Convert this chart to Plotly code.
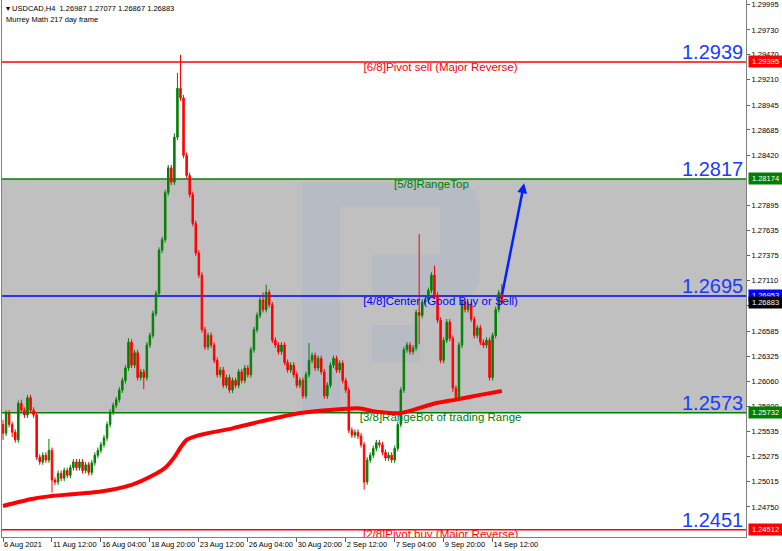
import plotly.graph_objects as go

# ---------------- data ----------------
closes = [
    1.2552, 1.2573, 1.2561, 1.2553, 1.2545, 1.2583, 1.2576, 1.2571, 1.2589, 1.2576,
    1.2571, 1.2527, 1.2522, 1.2529, 1.2524, 1.2534, 1.2503, 1.2501, 1.2510, 1.2505,
    1.2513, 1.2508, 1.2516, 1.2522, 1.2516, 1.2522, 1.2513, 1.2519, 1.2511, 1.2521,
    1.2529, 1.2534, 1.2540, 1.2547, 1.2561, 1.2574, 1.2581, 1.2587, 1.2597, 1.2607,
    1.2620, 1.2647, 1.2623, 1.2636, 1.2610, 1.2616, 1.2610, 1.2644, 1.2654, 1.2677,
    1.2698, 1.2743, 1.2754, 1.2803, 1.2829, 1.2814, 1.2861, 1.2912, 1.2902, 1.2842,
    1.2821, 1.2801, 1.2771, 1.2740, 1.2717, 1.2660, 1.2642, 1.2654, 1.2644, 1.2628,
    1.2613, 1.2618, 1.2602, 1.2610, 1.2597, 1.2607, 1.2602, 1.2616, 1.2607, 1.2620,
    1.2613, 1.2639, 1.2660, 1.2675, 1.2691, 1.2681, 1.2699, 1.2686, 1.2649, 1.2644,
    1.2637, 1.2644, 1.2626, 1.2618, 1.2623, 1.2613, 1.2602, 1.2607, 1.2591, 1.2613,
    1.2628, 1.2633, 1.2620, 1.2630, 1.2616, 1.2591, 1.2602, 1.2623, 1.2630, 1.2618,
    1.2625, 1.2607, 1.2597, 1.2555, 1.2550, 1.2553, 1.2549, 1.2540, 1.2501, 1.2524,
    1.2529, 1.2536, 1.2542, 1.2540, 1.2532, 1.2526, 1.2529, 1.2524, 1.2536, 1.2561,
    1.2597, 1.2639, 1.2644, 1.2637, 1.2641, 1.2678, 1.2675, 1.2689, 1.2691, 1.2701,
    1.2717, 1.2696, 1.2670, 1.2628, 1.2649, 1.2668, 1.2651, 1.2599, 1.2589, 1.2644,
    1.2689, 1.2681, 1.2686, 1.2671, 1.2654, 1.2662, 1.2647, 1.2644, 1.2649, 1.2610,
    1.2654, 1.2681, 1.26987, 1.26883,
]
first_open = 1.2561

# upper / lower wick lengths in pips beyond the body
wick_up = [
    5, 3, 3, 3, 3, 3, 4, 3, 3, 3,
    3, 3, 3, 3, 3, 12, 3, 3, 3, 3,
    3, 3, 3, 3, 3, 3, 3, 3, 3, 3,
    3, 3, 3, 3, 3, 3, 3, 3, 3, 3,
    3, 4, 3, 3, 3, 3, 3, 3, 3, 3,
    3, 3, 3, 3, 3, 3, 4, 16, 35, 3,
    3, 3, 3, 3, 3, 3, 3, 3, 3, 3,
    3, 3, 3, 3, 3, 3, 3, 3, 3, 3,
    3, 3, 3, 3, 3, 8, 8, 3, 3, 3,
    3, 3, 3, 3, 3, 3, 3, 3, 3, 3,
    18, 3, 3, 3, 3, 3, 3, 3, 3, 3,
    3, 3, 3, 3, 3, 3, 3, 3, 3, 3,
    3, 3, 3, 3, 3, 3, 3, 3, 3, 3,
    3, 3, 3, 3, 3, 3, 82, 3, 3, 3,
    3, 10, 3, 3, 3, 3, 3, 3, 3, 3,
    3, 3, 3, 3, 3, 3, 3, 3, 3, 3,
    3, 3, 3, 9,
]
wick_down = [
    7, 3, 3, 5, 3, 3, 3, 3, 3, 3,
    3, 3, 3, 3, 3, 3, 13, 3, 3, 3,
    3, 3, 3, 3, 3, 3, 3, 3, 3, 3,
    3, 3, 3, 3, 3, 3, 3, 3, 3, 3,
    3, 3, 3, 3, 3, 3, 12, 3, 3, 3,
    3, 3, 3, 3, 3, 3, 3, 3, 3, 3,
    3, 3, 3, 3, 3, 3, 3, 3, 3, 3,
    3, 3, 3, 3, 3, 3, 3, 3, 3, 3,
    3, 3, 3, 3, 3, 3, 3, 3, 3, 3,
    3, 3, 3, 3, 3, 3, 3, 3, 3, 3,
    3, 3, 3, 3, 3, 3, 3, 3, 3, 3,
    3, 3, 3, 3, 3, 3, 3, 3, 8, 3,
    3, 3, 3, 3, 3, 3, 3, 3, 3, 3,
    3, 3, 3, 3, 3, 3, 30, 3, 3, 3,
    3, 3, 3, 3, 3, 3, 3, 4, 3, 3,
    3, 3, 3, 3, 3, 3, 3, 3, 3, 3,
    3, 3, 3, 2,
]

ma_bars = [0, 9, 15, 32, 42, 49, 53, 56, 58, 60, 63, 67, 75, 84, 97, 110, 116, 123, 130, 141, 148, 156, 163]
ma_values = [1.2476, 1.2483, 1.2486, 1.2491, 1.2498, 1.2508, 1.2516, 1.2527, 1.2537, 1.2545, 1.2549,
             1.2552, 1.2557, 1.2564, 1.2573, 1.2577, 1.2578, 1.2574, 1.2573, 1.2583, 1.2587, 1.2592, 1.2596]

level_values = [1.29395, 1.28174, 1.26953, 1.25732, 1.24512]
level_names = ["[6/8]Pivot sell (Major Reverse)", "[5/8]RangeTop", "[4/8]Center (Good Buy or Sell)",
               "[3/8]RangeBot of trading Range", "[2/8]Pivot buy (Major Reverse)"]
level_colors = ["#ff0000", "#008000", "#0000ff", "#008000", "#ff0000"]
level_label_bar = [143, 140, 143, 143, 143]
big_labels = ["1.2939", "1.2817", "1.2695", "1.2573", "1.2451"]

last_close = 1.26883
arrow_start = (163, 1.26953)
arrow_end = (170.3, 1.2813)

x_tick_bars = [0, 16, 32, 48, 64, 80, 96, 112, 128, 144, 160]
x_tick_text = ["6 Aug 2021", "11 Aug 12:00", "16 Aug 04:00", "18 Aug 20:00", "23 Aug 12:00",
               "26 Aug 04:00", "30 Aug 20:00", "2 Sep 12:00", "7 Sep 04:00", "9 Sep 20:00", "14 Sep 12:00"]
y_ticks = [1.29995, 1.29730, 1.29470, 1.29210, 1.28945, 1.28685, 1.28420, 1.27895,
           1.27635, 1.27375, 1.27110, 1.26850, 1.26585, 1.26325, 1.26060, 1.25800, 1.25535,
           1.25275, 1.25015, 1.24750]

# ---------------- build ----------------
n = len(closes)
bars = list(range(n))
opens = [first_open] + closes[:-1]
pip = 0.0001
highs = [max(o, c) + u * pip for o, c, u in zip(opens, closes, wick_up[:n])]
lows = [min(o, c) - d * pip for o, c, d in zip(opens, closes, wick_down[:n])]

FONT = "Liberation Sans, Arial, sans-serif"
fig = go.Figure()

fig.add_trace(go.Candlestick(
    x=bars, open=opens, high=highs, low=lows, close=closes,
    increasing=dict(line=dict(color="#008000", width=1), fillcolor="#008000"),
    decreasing=dict(line=dict(color="#ff0000", width=1), fillcolor="#ff0000"),
    whiskerwidth=0, showlegend=False, hoverinfo="skip"))

fig.add_trace(go.Scatter(x=ma_bars, y=ma_values, mode="lines",
                         line=dict(color="#ff0000", width=4, shape="spline", smoothing=0.6),
                         showlegend=False, hoverinfo="skip"))

for name, val, col, xb in zip(level_names, level_values, level_colors, level_label_bar):
    fig.add_trace(go.Scatter(x=[xb], y=[val], mode="text", text=[name],
                             textposition="bottom center",
                             textfont=dict(family=FONT, size=11.5, color=col),
                             cliponaxis=True, showlegend=False, hoverinfo="skip"))

shapes = []
shapes.append(dict(type="rect", xref="paper", yref="y", x0=0, x1=1,
                   y0=level_values[3], y1=level_values[1],
                   fillcolor="#c0c0c0", line=dict(width=0), layer="below"))


def px(X):
    return (X - 2) / 744.0


def py(Y):
    return 1 - Y / 537.0


wm = "rgba(160,176,205,0.28)"
shapes.append(dict(type="rect", xref="paper", yref="paper", x0=px(302), x1=px(340),
                   y0=py(410), y1=py(183), fillcolor=wm, line=dict(width=0), layer="below"))
bowl = (f"M {px(340)},{py(183)} L {px(452)},{py(183)} Q {px(480)},{py(183)} {px(480)},{py(211)} "
        f"L {px(480)},{py(272)} Q {px(480)},{py(300)} {px(452)},{py(300)} L {px(372)},{py(300)} "
        f"L {px(372)},{py(255)} L {px(440)},{py(255)} L {px(440)},{py(207)} L {px(340)},{py(207)} Z")
shapes.append(dict(type="path", xref="paper", yref="paper", path=bowl,
                   fillcolor=wm, line=dict(width=0), layer="below"))
shapes.append(dict(type="rect", xref="paper", yref="paper", x0=px(372), x1=px(420),
                   y0=py(362), y1=py(325), fillcolor=wm, line=dict(width=0), layer="below"))

for val, col in zip(level_values, level_colors):
    shapes.append(dict(type="line", xref="paper", yref="y", x0=0, x1=1, y0=val, y1=val,
                       line=dict(color=col, width=1.5), layer="below"))

annotations = []
for val, lab in zip(level_values, big_labels):
    annotations.append(dict(x=0.998, xref="paper", y=val, yref="y", text=lab, showarrow=False,
                            xanchor="right", yanchor="bottom", yshift=-3,
                            font=dict(family=FONT, size=20, color="#1a3cff")))

annotations.append(dict(x=arrow_end[0], y=arrow_end[1], ax=arrow_start[0], ay=arrow_start[1],
                        xref="x", yref="y", axref="x", ayref="y", text="", showarrow=True,
                        arrowhead=2, arrowsize=0.8, arrowwidth=2.5, arrowcolor="#0022ff"))

tag_vals = [level_values[0], level_values[1], level_values[2], last_close, level_values[3], level_values[4]]
tag_cols = ["#ff0000", "#008000", "#0000ff", "#000000", "#008000", "#ff0000"]
for v, c in zip(tag_vals, tag_cols):
    annotations.append(dict(x=1, xref="paper", y=v, yref="y", text=f"{v:.5f}", showarrow=False,
                            xanchor="left", yanchor="middle", xshift=2,
                            font=dict(family=FONT, size=7.5, color="white"),
                            bgcolor=c, borderpad=1, width=31))

annotations.append(dict(x=0, xref="paper", y=1, yref="paper", xanchor="left", yanchor="top",
                        xshift=2, yshift=-2, showarrow=False,
                        text="▾ USDCAD,H4  1.26987 1.27077 1.26867 1.26883",
                        font=dict(family=FONT, size=7.5, color="black")))
annotations.append(dict(x=0, xref="paper", y=1, yref="paper", xanchor="left", yanchor="top",
                        xshift=2, yshift=-13, showarrow=False,
                        text="Murrey Math 217 day frame",
                        font=dict(family=FONT, size=7.5, color="black")))

fig.update_layout(
    width=782, height=551,
    margin=dict(l=2, r=36, t=0, b=14, autoexpand=False),
    paper_bgcolor="white", plot_bgcolor="white",
    shapes=shapes, annotations=annotations,
    showlegend=False,
    xaxis=dict(range=[-0.33, 242.8], rangeslider=dict(visible=False), showgrid=False, zeroline=False,
               automargin=False, tickangle=0,
               tickmode="array", tickvals=x_tick_bars, ticktext=x_tick_text,
               ticks="outside", ticklen=4, tickcolor="#606060",
               ticklabelposition="outside right",
               tickfont=dict(family=FONT, size=7.5, color="black"),
               showline=True, linecolor="#808080", linewidth=1),
    yaxis=dict(range=[1.24436, 1.30042], side="right", showgrid=False, zeroline=False,
               automargin=False,
               tickmode="array", tickvals=y_ticks, ticktext=[f"{v:.5f}" for v in y_ticks],
               ticks="outside", ticklen=3, tickcolor="#606060",
               tickfont=dict(family=FONT, size=7.5, color="black"),
               showline=True, mirror=True, linecolor="#808080", linewidth=1),
)

fig.write_html("out.html", config={"displayModeBar": False},
               post_script="document.body.style.margin='0';document.body.style.padding='0';")
